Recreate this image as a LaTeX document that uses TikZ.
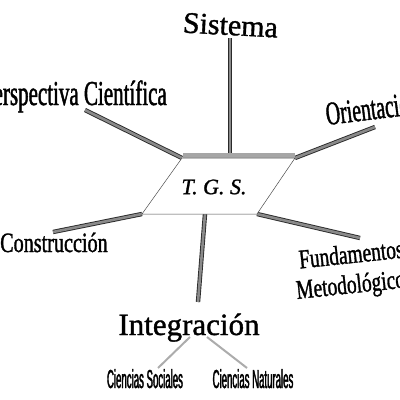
\documentclass[tikz,border=0pt]{standalone}
\usepackage{fontspec}
\setmainfont{Liberation Serif}
\newfontfamily\heavyserif[FakeBold=1.2]{Liberation Serif}
\newfontfamily\tallserif[FakeStretch=0.6, FakeBold=1.2]{Liberation Serif}
\newfontfamily\archserif[FakeStretch=0.72, FakeBold=1.2]{Liberation Serif}
\newfontfamily\narrowsans[FakeStretch=0.37, FakeBold=1.5]{Liberation Sans}
\usepackage{tikz}
\usetikzlibrary{positioning, backgrounds}
\definecolor{rodgray}{HTML}{8A8A8A}
\definecolor{rodedge}{HTML}{2A2A2A}
\definecolor{bandgray}{HTML}{A6A6A6}
\tikzset{
  word/.style={inner sep=0pt, font=\heavyserif\fontsize{#1}{#1}\selectfont},
  tallword/.style={inner sep=0pt, font=\tallserif\fontsize{#1}{#1}\selectfont},
  archword/.style={inner sep=0pt, align=center, font=\archserif\fontsize{#1}{30}\selectfont},
  subword/.style={inner sep=0pt, font=\narrowsans\fontsize{#1}{#1}\selectfont},
  core/.style={draw=black!70, line width=0.5pt, fill=white},
  rod/.style={draw=rodedge, line width=0.9pt, double=rodgray, double distance=2.6pt},
  twig/.style={draw=gray!65, line width=2pt},
}

\begin{document}
\begin{tikzpicture}[x=1pt, y=-1pt]
  \useasboundingbox (0,0) rectangle (400,400);

  % Central parallelogram
  \coordinate (nw) at (182,158);
  \coordinate (ne) at (295,158);
  \coordinate (se) at (257,214);
  \coordinate (sw) at (142,214);
  \coordinate (ntop) at (230,158);
  \coordinate (sbot) at (205,214);
  \fill[bandgray] (183,153) rectangle (295,158);
  \draw[core] (nw) -- (ne) -- (se) -- (sw) -- cycle;
  \node[inner sep=0pt, font=\heavyserif\itshape\fontsize{22}{22}\selectfont] (tgs) at (214,187) {T. G. S.};

  % Labels round it
  \node[word=30, anchor=base, rotate=-3] (sistema) at (230,35) {Sistema};
  \node[tallword=35, anchor=base east] (persp) at (167,105) {Perspectiva Científica};
  \node[tallword=33, anchor=base west, rotate=7] (orient) at (327,125) {Orientación};
  \node[archword=27, anchor=base west, rotate=6] (fund) at (297,299) {Fundamentos\\Metodológicos};
  \node[archword=28, anchor=base west] (constr) at (0,252) {Construcción};
  \node[word=31, anchor=base] (integ) at (189,335) {Integración};

  % Second level under Integracion
  \node[subword=26, anchor=base] (csoc) at (145,388) {Ciencias Sociales};
  \node[subword=26, anchor=base] (cnat) at (253,388) {Ciencias Naturales};

  % Free ends of the connectors
  \coordinate (sistema-end) at (230,38);
  \coordinate (persp-end) at (85,110);
  \coordinate (orient-end) at (375,127);
  \coordinate (fund-end) at (360,238);
  \coordinate (constr-end) at (53,232);
  \coordinate (integ-end) at (198,302);
  \coordinate (integ-l) at (190,337);
  \coordinate (integ-r) at (207,337);
  \coordinate (csoc-top) at (158,368);
  \coordinate (cnat-top) at (247,368);

  \begin{pgfonlayer}{background}
    \draw[rod] (ntop) -- (sistema-end);
    \draw[rod] (nw) -- (persp-end);
    \draw[rod] (ne) -- (orient-end);
    \draw[rod] (se) -- (fund-end);
    \draw[rod] (sw) -- (constr-end);
    \draw[rod] (sbot) -- (integ-end);
    \draw[twig] (integ-l) -- (csoc-top);
    \draw[twig] (integ-r) -- (cnat-top);
  \end{pgfonlayer}
\end{tikzpicture}
\end{document}
